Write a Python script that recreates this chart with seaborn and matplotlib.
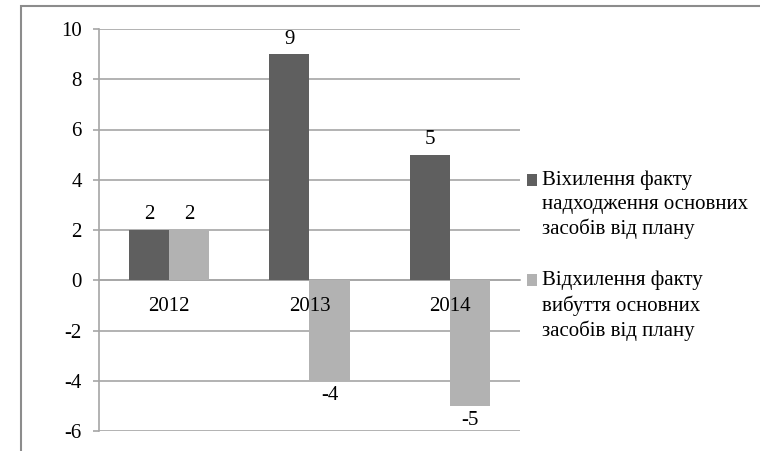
import matplotlib
matplotlib.use("Agg")
import matplotlib.pyplot as plt
import seaborn as sns
import pandas as pd
from matplotlib.patches import Rectangle

years = ["2012", "2013", "2014"]
series_names = [
    "Віхилення факту\nнадходження основних\nзасобів від плану",
    "Відхилення факту\nвибуття основних\nзасобів від плану",
]
income_dev = [2, 9, 5]
disposal_dev = [2, -4, -5]
colors = ["#5f5f5f", "#b2b2b2"]
yticks = [-6, -4, -2, 0, 2, 4, 6, 8, 10]

df = pd.DataFrame({
    "year": years * 2,
    "series": [series_names[0]] * 3 + [series_names[1]] * 3,
    "value": income_dev + disposal_dev,
})

sns.set_theme(style="white")
plt.rcParams["font.family"] = ["Liberation Serif", "DejaVu Serif"]

fig = plt.figure(figsize=(7.6, 4.51), dpi=100)
ax = fig.add_axes([99 / 760, 1 - 431 / 451, (520 - 99) / 760, (431 - 29) / 451])

sns.barplot(data=df, x="year", y="value", hue="series", palette=colors,
            width=0.571, gap=0, ax=ax, legend=False, saturation=1,
            edgecolor="none")

ax.set_xlim(-0.5, 2.5)
ax.set_ylim(-6, 10)
ax.set_yticks(yticks)
ax.set_yticklabels([str(t) for t in yticks])
grid_c = "#a6a6a6"
ax.grid(axis="y", color=grid_c, linewidth=1.2)
ax.set_axisbelow(True)
ax.xaxis.set_zorder(3)
ax.set_xlabel("")
ax.set_ylabel("")

for s in ["top", "right"]:
    ax.spines[s].set_visible(False)
ax.spines["left"].set_color(grid_c)
ax.spines["left"].set_linewidth(1.2)
ax.spines["bottom"].set_position(("data", 0))
ax.spines["bottom"].set_color(grid_c)
ax.spines["bottom"].set_linewidth(1.2)
ax.spines["bottom"].set_zorder(0.6)

ax.tick_params(axis="y", direction="out", length=4.5, width=1.2, color=grid_c,
               pad=8, labelsize=15, labelcolor="black", left=True)
ax.tick_params(axis="x", length=0, pad=12, labelsize=15, labelcolor="black")

for cont in ax.containers:
    ax.bar_label(cont, labels=[f"{v:g}" for v in cont.datavalues],
                 padding=4, fontsize=15, color="black")

# outer chart frame
fig.patches.append(Rectangle((21 / 760, -0.2), 1.0, 1.2 - 6 / 451,
                             transform=fig.transFigure, fill=False,
                             edgecolor="#8c8c8c", linewidth=1.5))

# legend
leg_x = 527 / 760
text_x = 542 / 760
tops = [180, 280]
for name, c, t in zip(series_names, colors, tops):
    fig.patches.append(Rectangle((leg_x, 1 - (t + 6) / 451), 10 / 760, 12 / 451,
                                 transform=fig.transFigure, facecolor=c,
                                 edgecolor="none"))
    fig.text(text_x, 1 - (t - 9) / 451, name, fontsize=15, va="top", ha="left",
             linespacing=1.32, color="black", transform=fig.transFigure)

fig.savefig("out.png", dpi=100)
